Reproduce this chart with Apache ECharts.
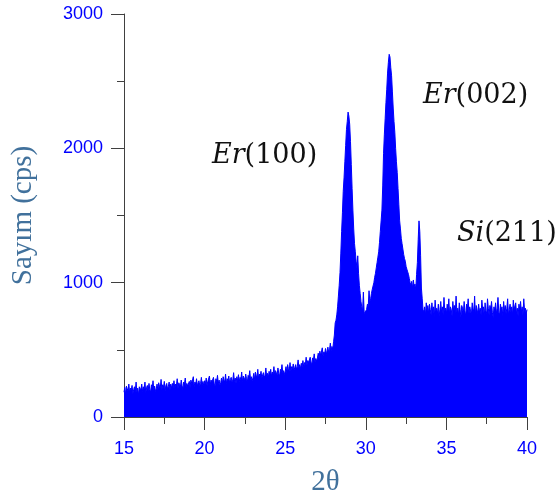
<!DOCTYPE html>
<html>
<head>
<meta charset="utf-8">
<script src="https://cdn.jsdelivr.net/npm/echarts@6/dist/echarts.min.js"></script>
<style>
  html, body { margin: 0; padding: 0; background: #ffffff; }
  #chart { width: 558px; height: 501px; }
</style>
</head>
<body>
<div id="chart"></div>
<script>
// XRD scan: 2θ from 15° to 40° sampled every 0.05°
const scanStart = 15;
const scanStep = 0.05;

// Counts per step (cps), one row per degree
const counts = [
  185, 220, 170, 230, 210, 195, 245, 180, 215, 200, 235, 175, 205, 225, 190, 260, 185, 215, 165, 225,
  230, 200, 245, 190, 225, 210, 260, 180, 220, 235, 195, 250, 205, 185, 240, 215, 270, 200, 230, 190,
  210, 245, 200, 255, 230, 215, 280, 205, 240, 220, 265, 195, 235, 250, 210, 225, 260, 200, 245, 215,
  250, 220, 270, 215, 245, 230, 285, 210, 255, 240, 225, 275, 235, 205, 260, 245, 290, 225, 250, 230,
  235, 265, 220, 275, 250, 240, 300, 225, 260, 245, 285, 230, 255, 270, 235, 250, 295, 240, 265, 230,
  270, 245, 290, 235, 265, 255, 305, 240, 275, 260, 250, 295, 245, 230, 285, 265, 310, 250, 275, 240,
  255, 290, 245, 300, 275, 260, 320, 250, 285, 270, 305, 255, 280, 295, 260, 275, 330, 265, 290, 250,
  300, 270, 315, 265, 295, 280, 335, 265, 305, 290, 275, 320, 285, 260, 310, 295, 345, 280, 300, 270,
  290, 325, 280, 335, 310, 295, 355, 285, 320, 305, 340, 290, 315, 330, 295, 310, 365, 300, 325, 290,
  340, 310, 355, 305, 335, 320, 375, 310, 345, 330, 315, 365, 325, 300, 355, 340, 390, 325, 345, 315,
  340, 375, 330, 390, 360, 345, 405, 340, 375, 360, 395, 350, 370, 390, 355, 375, 425, 365, 390, 360,
  400, 375, 420, 370, 405, 390, 445, 385, 420, 405, 395, 445, 410, 385, 440, 425, 470, 410, 435, 415,
  440, 475, 435, 490, 460, 450, 515, 455, 485, 470, 510, 465, 495, 520, 480, 500, 550, 495, 525, 505,
  560, 610, 700, 720, 760, 820, 900, 980, 1075, 1220, 1380, 1520, 1680, 1780, 1900, 2020, 2140, 2200, 2270, 2240,
  2180, 2050, 1880, 1700, 1540, 1400, 1290, 1230, 1160, 1110, 1200, 1070, 980, 920, 860, 820, 790, 930, 770, 760,
  780, 800, 840, 820, 940, 860, 880, 920, 950, 975, 1000, 1040, 1070, 1110, 1150, 1190, 1230, 1300, 1380, 1460,
  1540, 1720, 1960, 2100, 2220, 2340, 2440, 2560, 2640, 2700, 2680, 2600, 2540, 2420, 2300, 2200, 2120, 2000, 1900, 1820,
  1700, 1580, 1460, 1400, 1330, 1290, 1250, 1210, 1180, 1160, 1120, 1100, 1080, 1060, 1030, 1000, 980, 1010, 960, 1020,
  970, 990, 950, 1060, 1150, 1320, 1460, 1380, 1200, 960, 880, 800, 780, 820, 760, 850, 790, 830, 770, 840,
  800, 760, 850, 780, 820, 740, 870, 790, 810, 770, 840, 750, 800, 860, 780, 820, 760, 890, 790, 810,
  770, 840, 790, 880, 760, 820, 800, 750, 860, 790, 830, 770, 900, 780, 810, 760, 850, 800, 740, 830,
  810, 770, 860, 790, 750, 840, 800, 880, 770, 820, 790, 760, 850, 810, 780, 900, 760, 830, 800, 770,
  840, 780, 810, 760, 870, 800, 820, 750, 850, 790, 770, 880, 810, 760, 830, 800, 860, 780, 740, 820,
  790, 850, 770, 810, 890, 780, 760, 840, 800, 820, 750, 860, 790, 830, 770, 810, 880, 760, 800, 840,
  780, 820, 760, 870, 800, 790, 850, 770, 810, 750, 840, 800, 860, 780, 820, 760, 880, 790, 810, 770,
  800
];

// Axis ranges and tick labels
const xTicks = [15, 20, 25, 30, 35, 40];
const yTicks = [0, 1000, 2000, 3000];

// Peak annotations: element (italic) and reflection
const peakElements = ['Er', 'Er', 'Si'];
const peakPlanes = ['(100)', '(002)', '(211)'];

const points = counts.map((c, i) => [+(scanStart + i * scanStep).toFixed(2), c]);

const chart = echarts.init(document.getElementById('chart'), null, { renderer: 'canvas' });

const axisColor = '#404040';
const labelBlue = '#0000ff';
const nameColor = '#41719c';

function peakLabel(i, left, top) {
  return {
    type: 'text',
    left: left,
    top: top,
    style: {
      text: '{el|' + peakElements[i] + '}{pl|' + peakPlanes[i] + '}',
      rich: {
        el: { fontFamily: 'DejaVu Serif', fontStyle: 'italic', fontSize: 27, fill: '#111111' },
        pl: { fontFamily: 'DejaVu Serif', fontSize: 27, fill: '#111111' }
      }
    }
  };
}

chart.setOption({
  animation: false,
  backgroundColor: '#ffffff',
  grid: { left: 124, right: 31, top: 14, bottom: 84, containLabel: false, outerBoundsMode: 'none' },
  xAxis: {
    type: 'value',
    min: xTicks[0],
    max: xTicks[xTicks.length - 1],
    interval: 5,
    name: '2θ',
    nameLocation: 'middle',
    nameGap: 51,
    nameTextStyle: { fontFamily: 'Liberation Serif', fontSize: 29, color: nameColor },
    axisLine: { show: true, onZero: false, lineStyle: { color: axisColor, width: 1 } },
    axisTick: { show: true, length: 13, lineStyle: { color: axisColor } },
    minorTick: { show: true, splitNumber: 2, length: 7, lineStyle: { color: axisColor } },
    axisLabel: { color: labelBlue, fontFamily: 'Liberation Sans', fontSize: 18, margin: 23 },
    splitLine: { show: false }
  },
  yAxis: {
    type: 'value',
    min: yTicks[0],
    max: yTicks[yTicks.length - 1],
    interval: 1000,
    name: 'Sayım (cps)',
    nameLocation: 'middle',
    nameGap: 86,
    nameTextStyle: { fontFamily: 'Liberation Serif', fontSize: 29, color: nameColor },
    axisLine: { show: true, lineStyle: { color: axisColor, width: 1 } },
    axisTick: { show: true, length: 13, lineStyle: { color: axisColor } },
    minorTick: { show: true, splitNumber: 2, length: 7, lineStyle: { color: axisColor } },
    axisLabel: {
      color: labelBlue, fontFamily: 'Liberation Sans', fontSize: 18, margin: 21,
      formatter: (v) => String(v)
    },
    splitLine: { show: false }
  },
  series: [{
    type: 'line',
    data: points,
    showSymbol: false,
    symbol: 'none',
    lineStyle: { color: '#0000ff', width: 1 },
    itemStyle: { color: '#0000ff' },
    areaStyle: { color: '#0000ff', opacity: 1 }
  }],
  graphic: [
    peakLabel(0, 212, 142),
    peakLabel(1, 423, 82),
    peakLabel(2, 457, 220)
  ]
});
</script>
</body>
</html>
